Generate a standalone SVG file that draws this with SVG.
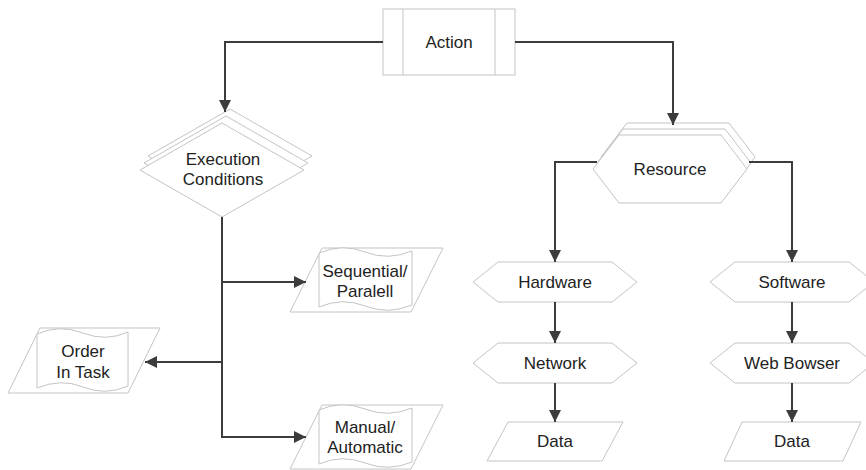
<svg xmlns="http://www.w3.org/2000/svg" width="866" height="470" viewBox="0 0 866 470">
  <style>
    .shape { fill: #ffffff; stroke: #c4c4c4; stroke-width: 1; }
    .label { font-family: "Liberation Sans", Arial, sans-serif; font-size: 17px; fill: #222222; text-anchor: middle; }
    .link { fill: none; stroke: #3c3c3c; stroke-width: 2; }
  </style>
  <defs>
    <marker id="arrow" markerUnits="userSpaceOnUse" markerWidth="13" markerHeight="12" refX="12" refY="6" orient="auto">
      <path d="M0,0 L12,6 L0,12 z" fill="#3c3c3c"/>
    </marker>
  </defs>
  <rect width="866" height="470" fill="#ffffff"/>

  <!-- Action (predefined process) -->
  <g id="action">
    <rect class="shape" x="383" y="9" width="132" height="66"/>
    <line class="shape" x1="403" y1="9" x2="403" y2="75"/>
    <line class="shape" x1="495" y1="9" x2="495" y2="75"/>
    <text class="label" x="449" y="48">Action</text>
  </g>

  <!-- Execution Conditions (stacked decision) -->
  <g id="execution-conditions">
    <polygon class="shape" points="230,109 312,156 230,203 148,156"/>
    <polygon class="shape" points="226,116 308,163 226,210 144,163"/>
    <polygon class="shape" points="222,123 304,170 222,217 140,170"/>
    <text class="label" x="223" y="165">Execution</text>
    <text class="label" x="223" y="185">Conditions</text>
  </g>

  <!-- Resource (stacked preparation) -->
  <g id="resource">
    <polygon class="shape" points="601,157 627,123 729,123 755,157 729,191 627,191"/>
    <polygon class="shape" points="597,163 623,129 725,129 751,163 725,197 623,197"/>
    <polygon class="shape" points="593,169 619,135 721,135 747,169 721,203 619,203"/>
    <text class="label" x="670" y="175">Resource</text>
  </g>

  <!-- Sequential / Paralell -->
  <g id="sequential">
    <polygon class="shape" points="322,248 443,248 411,312 290,312"/>
    <path class="shape" d="M319,253 Q342,243 365,252 T412,251 L412,305 Q388,315 365,306 T319,307 Z"/>
    <text class="label" x="365" y="277">Sequential/</text>
    <text class="label" x="365" y="297">Paralell</text>
  </g>

  <!-- Order In Task -->
  <g id="order">
    <polygon class="shape" points="40,328 160,328 128,393 8,393"/>
    <path class="shape" d="M37,334 Q60,324 83,333 T128,332 L128,386 Q105,396 83,387 T37,388 Z"/>
    <text class="label" x="83" y="357">Order</text>
    <text class="label" x="83" y="378">In Task</text>
  </g>

  <!-- Manual / Automatic -->
  <g id="manual">
    <polygon class="shape" points="322,405 443,405 411,469 290,469"/>
    <path class="shape" d="M319,410 Q342,400 365,409 T412,408 L412,462 Q388,472 365,463 T319,464 Z"/>
    <text class="label" x="365" y="433">Manual/</text>
    <text class="label" x="365" y="453">Automatic</text>
  </g>

  <!-- Hardware branch -->
  <g id="hardware">
    <polygon class="shape" points="473,282 498,262 612,262 637,282 612,302 498,302"/>
    <text class="label" x="555" y="288">Hardware</text>
  </g>
  <g id="network">
    <polygon class="shape" points="473,363 498,343 612,343 637,363 612,383 498,383"/>
    <text class="label" x="555" y="369">Network</text>
  </g>
  <g id="data-hw">
    <polygon class="shape" points="508,422 623,422 602,461 487,461"/>
    <text class="label" x="555" y="447">Data</text>
  </g>

  <!-- Software branch -->
  <g id="software">
    <polygon class="shape" points="710,282 735,262 849,262 874,282 849,302 735,302"/>
    <text class="label" x="792" y="288">Software</text>
  </g>
  <g id="web-bowser">
    <polygon class="shape" points="710,363 735,343 849,343 874,363 849,383 735,383"/>
    <text class="label" x="792" y="369">Web Bowser</text>
  </g>
  <g id="data-sw">
    <polygon class="shape" points="742,422 861,422 843,461 724,461"/>
    <text class="label" x="792" y="447">Data</text>
  </g>

  <!-- Connectors -->
  <g id="connectors">
    <polyline class="link" points="383,42 225,42 225,112" marker-end="url(#arrow)"/>
    <polyline class="link" points="515,42 673,42 673,125" marker-end="url(#arrow)"/>
    <line class="link" x1="222" y1="217" x2="222" y2="437"/>
    <line class="link" x1="221" y1="282" x2="306" y2="282" marker-end="url(#arrow)"/>
    <line class="link" x1="223" y1="362" x2="145" y2="362" marker-end="url(#arrow)"/>
    <line class="link" x1="221" y1="437" x2="306" y2="437" marker-end="url(#arrow)"/>
    <polyline class="link" points="597,162 555,162 555,262" marker-end="url(#arrow)"/>
    <polyline class="link" points="749,162 792,162 792,262" marker-end="url(#arrow)"/>
    <line class="link" x1="555" y1="302" x2="555" y2="343" marker-end="url(#arrow)"/>
    <line class="link" x1="555" y1="383" x2="555" y2="422" marker-end="url(#arrow)"/>
    <line class="link" x1="792" y1="302" x2="792" y2="343" marker-end="url(#arrow)"/>
    <line class="link" x1="792" y1="383" x2="792" y2="422" marker-end="url(#arrow)"/>
  </g>
</svg>
